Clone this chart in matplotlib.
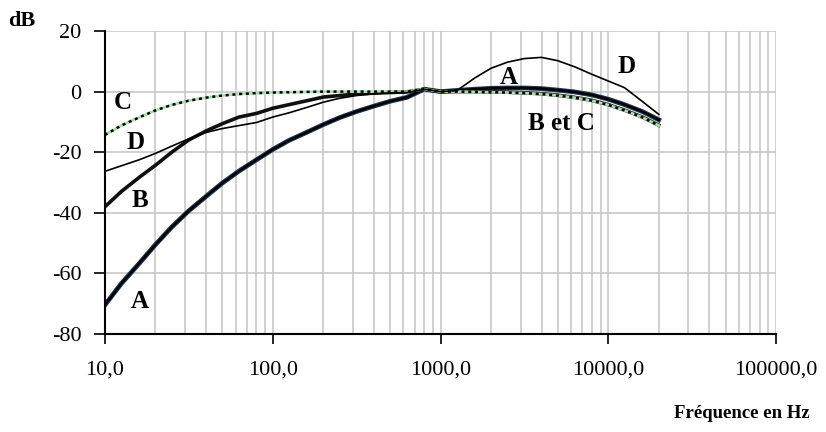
import matplotlib
matplotlib.use("Agg")
import matplotlib.pyplot as plt
from matplotlib.ticker import FixedLocator, FuncFormatter, LogLocator, NullFormatter

# Fréquences (tiers d'octave) et courbes de pondération
freq = [10, 12.5, 16, 20, 25, 31.5, 40, 50, 63, 80, 100, 125, 160, 200, 250,
        315, 400, 500, 630, 800, 1000, 1250, 1600, 2000, 2500, 3150, 4000,
        5000, 6300, 8000, 10000, 12500, 16000, 20000]

pond_A = [-70.4, -63.4, -56.7, -50.5, -44.7, -39.4, -34.6, -30.2, -26.2, -22.5,
          -19.1, -16.1, -13.4, -10.9, -8.6, -6.6, -4.8, -3.2, -1.9, 0.8,
          0.0, 0.4, 0.8, 1.1, 1.2, 1.2, 1.0, 0.5, -0.1, -1.1,
          -2.5, -4.3, -6.6, -9.3]
pond_B = [-38.0, -33.0, -28.3, -24.3, -20.0, -16.0, -13.0, -10.6, -8.4, -7.2,
          -5.5, -4.3, -3.0, -1.8, -1.3, -0.8, -0.5, -0.3, -0.1, 0.8,
          0.0, 0.0, 0.0, -0.1, -0.2, -0.4, -0.7, -1.2, -1.9, -2.9,
          -4.3, -6.1, -8.4, -11.1]
pond_C = [-14.3, -11.2, -8.5, -6.2, -4.4, -3.0, -2.0, -1.3, -0.8, -0.5,
          -0.3, -0.2, -0.1, 0.0, 0.0, 0.0, 0.0, 0.0, 0.0, 0.8,
          0.0, 0.0, -0.1, -0.2, -0.3, -0.5, -0.8, -1.3, -2.0, -3.0,
          -4.4, -6.2, -8.5, -11.2]
pond_D = [-26.3, -24.5, -22.5, -20.4, -18.0, -15.6, -13.5, -12.2, -11.2, -10.2,
          -8.4, -7.0, -5.2, -3.5, -2.2, -1.3, -0.7, -0.4, -0.3, 0.8,
          0.0, 0.3, 4.5, 7.7, 9.7, 10.9, 11.3, 10.2, 8.2, 5.7,
          3.5, 1.3, -3.3, -7.5]

x_labels = ["10,0", "100,0", "1000,0", "10000,0", "100000,0"]
x_major = [10, 100, 1000, 10000, 100000]
y_major = [-80, -60, -40, -20, 0, 20]

serif = ["Liberation Serif", "DejaVu Serif"]
plt.rcParams['font.family'] = serif

fig = plt.figure(figsize=(8.26, 4.32), dpi=100)
ax = fig.add_axes([0.1271, 0.2269, 0.8124, 0.7013])

ax.set_xscale('log')
ax.set_xlim(10, 100000)
ax.set_ylim(-80, 20)

# grille
ax.xaxis.set_major_locator(FixedLocator(x_major))
ax.xaxis.set_minor_locator(LogLocator(base=10, subs=range(2, 10)))
ax.xaxis.set_minor_formatter(NullFormatter())
ax.yaxis.set_major_locator(FixedLocator(y_major))
ax.grid(True, which='both', axis='x', color='#c8c8c8', lw=1.2, zorder=0)
ax.grid(True, which='major', axis='y', color='#c8c8c8', lw=1.2, zorder=0)
ax.set_axisbelow(True)

ax.xaxis.set_major_formatter(FuncFormatter(lambda v, p: x_labels[x_major.index(int(round(v)))]
                                           if int(round(v)) in x_major else ""))
ax.yaxis.set_major_formatter(FuncFormatter(lambda v, p: "%d" % v if v >= 0 else "-%d" % abs(v)))

for s in ['top', 'right']:
    ax.spines[s].set_visible(False)
for s in ['left', 'bottom']:
    ax.spines[s].set_linewidth(1.5)
    ax.spines[s].set_zorder(5)

ax.tick_params(axis='x', which='major', direction='out', length=7, width=1.2,
               labelsize=16, pad=12)
ax.tick_params(axis='x', which='minor', length=0)
ax.tick_params(axis='y', which='major', direction='out', length=8, width=1.2,
               labelsize=16, pad=9)

# courbes
ax.plot(freq, pond_A, color='#1c3550', lw=3.4, zorder=3)
ax.plot(freq, pond_A, color='black', lw=1.8, zorder=3)
ax.plot(freq, pond_B, color='#101010', lw=2.6, zorder=3)
ax.plot(freq, pond_C, color='#a8e0b0', lw=2.0, zorder=3)
ax.plot(freq, pond_C, color='black', lw=1.8, ls=(0, (1.2, 1.5)), zorder=4)
ax.plot(freq, pond_D, color='black', lw=1.2, zorder=4)

# étiquettes des courbes
lab = dict(fontsize=18, fontweight='bold', ha='center', va='center', family=serif)
ax.text(12.7, -3.5, "C", **lab)
ax.text(15.3, -16.8, "D", **lab)
ax.text(16.2, -36.0, "B", **lab)
ax.text(16.2, -69.3, "A", **lab)
ax.text(2560, 4.8, "A", **lab)
ax.text(12800, 8.2, "D", **lab)
ax.text(5250, -10.6, "B et C", **lab)

fig.text(22 / 826, 1 - 21 / 432, "dB", fontsize=16, fontweight='bold',
         ha='center', va='center', family=serif)
fig.text(810 / 826, 1 - 414 / 432, "Fréquence en Hz", fontsize=13.5, fontweight='bold',
         ha='right', va='center', family=serif)

fig.savefig("out.png", dpi=100)
